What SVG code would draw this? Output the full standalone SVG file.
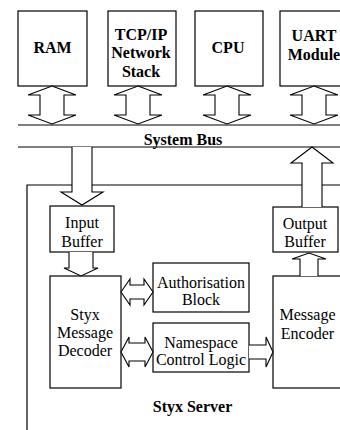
<svg xmlns="http://www.w3.org/2000/svg" width="340" height="430" viewBox="0 0 340 430">
<style>
.b{fill:#fff;stroke:#000;stroke-width:1.2}
.l{fill:none;stroke:#000;stroke-width:1.2}
.a{fill:#fff;stroke:#000;stroke-width:1.1}
text{font-size:16px;fill:#000;text-anchor:middle}
.bd{font-weight:bold}
</style>
<rect width="340" height="430" fill="#fff"/>
<g font-family="'Liberation Serif', 'Times New Roman', 'DejaVu Serif', serif">
<g id="bus">
<line class="l" x1="18" y1="125" x2="340" y2="125"/>
<line class="l" x1="18" y1="147" x2="340" y2="147"/>
<text class="bd" x="183" y="145">System Bus</text>
</g>
<g id="server">
<path class="l" d="M27,430 V185 H72 M92,185 H302 M322,185 H340"/>
<text class="bd" x="192.5" y="412">Styx Server</text>
</g>
<g id="ram"><rect class="b" x="18" y="11" width="69" height="75"/><text class="bd" x="52.5" y="53">RAM</text></g>
<g id="tcp"><rect class="b" x="108" y="11" width="68" height="75"/><text class="bd" x="141" y="40">TCP/IP</text><text class="bd" x="141" y="58">Network</text><text class="bd" x="141" y="77">Stack</text></g>
<g id="cpu"><rect class="b" x="195" y="11" width="68" height="75"/><text class="bd" x="228" y="53">CPU</text></g>
<g id="uart"><rect class="b" x="280" y="11" width="70" height="75"/><text class="bd" x="314" y="41">UART</text><text class="bd" x="314" y="60">Module</text></g>
<g id="inbuf"><rect class="b" x="50" y="206" width="64" height="46"/><text x="82" y="228">Input</text><text x="82" y="247">Buffer</text></g>
<g id="outbuf"><rect class="b" x="273" y="207" width="65" height="45"/><text x="305" y="229">Output</text><text x="305" y="247">Buffer</text></g>
<g id="decoder"><rect class="b" x="50" y="276" width="71" height="112"/><text x="85" y="320">Styx</text><text x="85" y="338">Message</text><text x="85" y="356">Decoder</text></g>
<g id="auth"><rect class="b" x="153" y="263" width="96" height="49"/><text x="201" y="288">Authorisation</text><text x="201" y="305">Block</text></g>
<g id="namespace"><rect class="b" x="153" y="323" width="96" height="49"/><text x="201" y="348">Namespace</text><text x="201" y="365">Control Logic</text></g>
<g id="encoder"><rect class="b" x="273" y="276" width="70" height="112"/><text x="307.5" y="320">Message</text><text x="307.5" y="339">Encoder</text></g>
</g>
<g id="connectors">
<polygon class="a" points="52,86 76,95 64,95 64,115 76,115 52,124 28,115 40,115 40,95 28,95"/>
<polygon class="a" points="138,86 162,95 150,95 150,115 162,115 138,124 114,115 126,115 126,95 114,95"/>
<polygon class="a" points="227,86 251,95 239,95 239,115 251,115 227,124 203,115 215,115 215,95 203,95"/>
<polygon class="a" points="314,86 338,95 326,95 326,115 338,115 314,124 290,115 302,115 302,95 290,95"/>
<path class="a" d="M72,147 V192 H61 L82,205 L103,192 H92 V147"/>
<path class="a" d="M302,207 V163 H291 L312,147 L333,163 H322 V207"/>
<path class="a" d="M69,252 V268 H64 L81,276 L98,268 H93 V252"/>
<path class="a" d="M300,276 V259 H292 L309,253 L326,259 H318 V276"/>
<polygon class="a" points="121,292 130,279 130,285 144,285 144,279 153,292 144,305 144,299 130,299 130,305"/>
<polygon class="a" points="121,352 129,337 129,343 145,343 145,337 153,352 145,367 145,361 129,361 129,367"/>
<path class="a" d="M249,345 H266 V337 L273,352 L266,367 V359 H249"/>
</g>
</svg>
